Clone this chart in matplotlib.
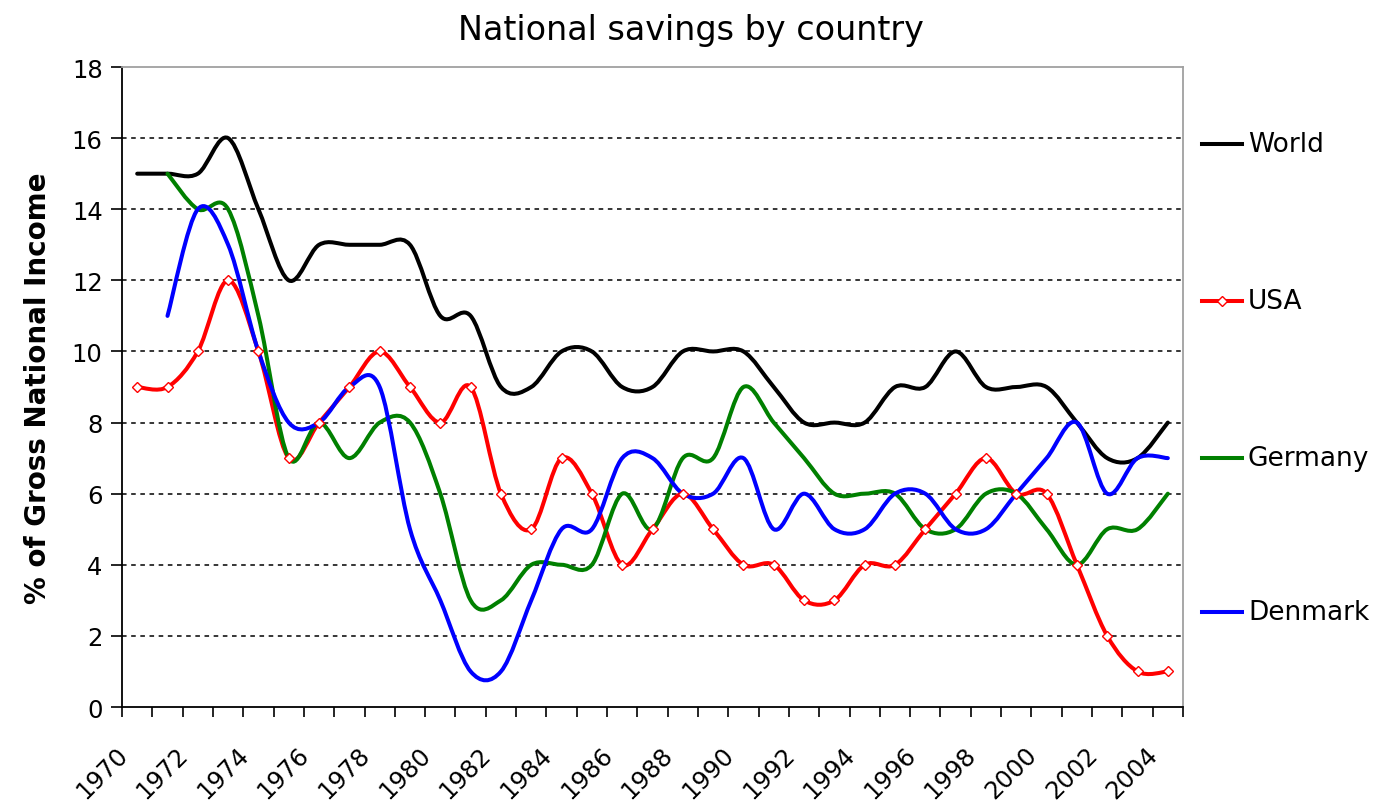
import numpy as np
import matplotlib
matplotlib.use("Agg")
import matplotlib.pyplot as plt
from matplotlib.path import Path
from matplotlib.patches import PathPatch
from matplotlib.lines import Line2D
from matplotlib.transforms import ScaledTranslation

# data (% of gross national income)
years = list(range(1970, 2005))
world = [15, 15, 15, 16, 14, 12, 13, 13, 13, 13,
         11, 11, 9, 9, 10, 10, 9, 9, 10, 10,
         10, 9, 8, 8, 8, 9, 9, 10, 9, 9,
         9, 8, 7, 7, 8]
usa = [9, 9, 10, 12, 10, 7, 8, 9, 10, 9,
       8, 9, 6, 5, 7, 6, 4, 5, 6, 5,
       4, 4, 3, 3, 4, 4, 5, 6, 7, 6,
       6, 4, 2, 1, 1]
germany = [np.nan, 15, 14, 14, 11, 7, 8, 7, 8, 8,
           6, 3, 3, 4, 4, 4, 6, 5, 7, 7,
           9, 8, 7, 6, 6, 6, 5, 5, 6, 6,
           5, 4, 5, 5, 6]
denmark = [np.nan, 11, 14, 13, 10, 8, 8, 9, 9, 5,
           3, 1, 1, 3, 5, 5, 7, 7, 6, 6,
           7, 5, 6, 5, 5, 6, 6, 5, 5, 6,
           7, 8, 6, 7, 7]

series = [("World", world, "black"),
          ("USA", usa, "#ff0000"),
          ("Germany", germany, "#008000"),
          ("Denmark", denmark, "#0000ff")]


def smooth_path(xs, ys):
    # Excel-style smoothed line: cubic bezier through the points
    xs = np.asarray(xs, float)
    ys = np.asarray(ys, float)
    ok = ~np.isnan(ys)
    pts = np.column_stack([xs[ok], ys[ok]])
    n = len(pts)
    verts = [pts[0]]
    codes = [Path.MOVETO]
    for i in range(n - 1):
        p0 = pts[max(i - 1, 0)]
        p1 = pts[i]
        p2 = pts[i + 1]
        p3 = pts[min(i + 2, n - 1)]
        verts += [p1 + (p2 - p0) / 6, p2 - (p3 - p1) / 6, p2]
        codes += [Path.CURVE4] * 3
    return Path(verts, codes)


fig = plt.figure(figsize=(13.82, 8.03), dpi=100)
ax = fig.add_axes([0.0883, 0.1183, 0.7677, 0.797])

x = np.arange(len(years))
for name, vals, col in series:
    ax.add_patch(PathPatch(smooth_path(x, vals), fill=False, edgecolor=col,
                           lw=2.9, capstyle="round", joinstyle="round", zorder=3))

ax.plot(x, usa, linestyle="none", marker="D", markersize=5,
        markerfacecolor="white", markeredgecolor="#ff0000", markeredgewidth=1, zorder=4)

ax.set_xlim(-0.5, len(years) - 0.5)
ax.set_ylim(0, 18)
yt = np.arange(0, 19, 2)
ax.set_yticks(yt)
for v in yt[1:-1]:
    ax.axhline(v, color="black", lw=1.1, linestyle=(0, (3, 3)), zorder=1)

ax.set_xticks(x[::2])
ax.set_xticklabels([str(y) for y in years[::2]])
ax.set_xticks(np.arange(-0.5, len(years), 1), minor=True)
ax.tick_params(axis="x", which="major", length=0, pad=0, labelsize=17.5)
ax.tick_params(axis="x", which="minor", length=7, width=1.2, direction="out")
ax.tick_params(axis="y", length=8, width=1.2, direction="out", labelsize=17.5, pad=6)

offset = ScaledTranslation(-0.22, -0.35, fig.dpi_scale_trans)
for lab in ax.get_xticklabels():
    lab.set_rotation(45)
    lab.set_ha("right")
    lab.set_va("top")
    lab.set_rotation_mode("anchor")
    lab.set_transform(lab.get_transform() + offset)

for s in ["left", "bottom"]:
    ax.spines[s].set_color("black")
    ax.spines[s].set_linewidth(1.3)
for s in ["top", "right"]:
    ax.spines[s].set_color("#a0a0a0")
    ax.spines[s].set_linewidth(1.3)

ax.set_ylabel("% of Gross National Income", fontsize=20, fontweight="bold", labelpad=14)
fig.suptitle("National savings by country", fontsize=24, y=0.983)

# legend on the right, spread out like the original
leg_y = [0.819, 0.624, 0.428, 0.237]
for (name, vals, col), ly in zip(series, leg_y):
    fig.add_artist(Line2D([0.870, 0.899], [ly, ly], color=col, lw=2.9,
                          transform=fig.transFigure))
    if name == "USA":
        fig.add_artist(Line2D([0.8845], [ly], marker="D", markersize=5,
                              markerfacecolor="white", markeredgecolor="#ff0000",
                              transform=fig.transFigure))
    fig.text(0.903, ly, name, fontsize=19, va="center", ha="left")

fig.savefig("out.png", dpi=100)
